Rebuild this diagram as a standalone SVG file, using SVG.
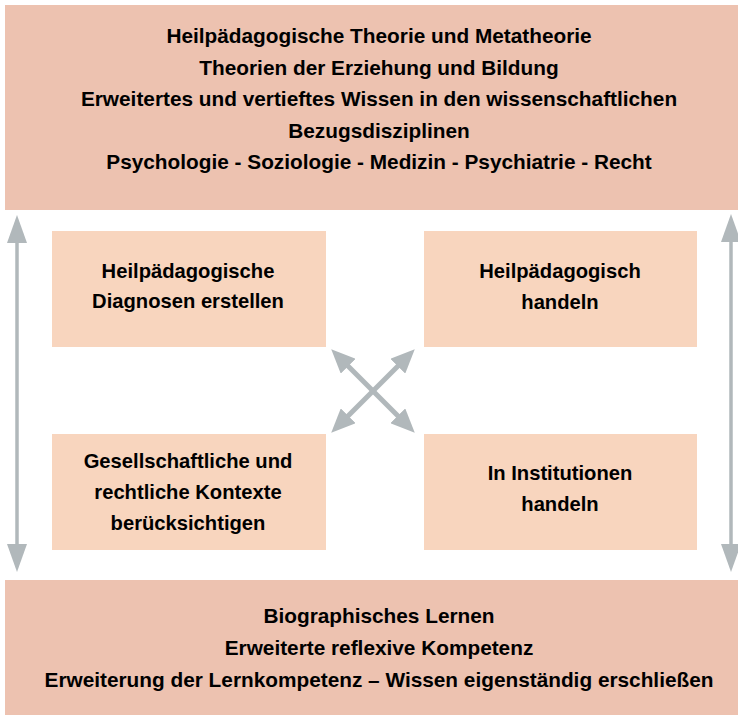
<svg xmlns="http://www.w3.org/2000/svg" width="738" height="725" viewBox="0 0 738 725">
<style>
.outer{fill:#EDC2B0}
.inner{fill:#F8D5BE}
text{font-family:"Liberation Sans",Arial,sans-serif;font-weight:bold;font-size:20.8px;fill:#000;text-anchor:middle}
.small{font-size:20.2px}
.conn{stroke:#B1B8BB;fill:none}
</style>
<defs>
<marker id="hv" markerUnits="userSpaceOnUse" viewBox="0 0 28 20" refX="18" refY="10" markerWidth="28" markerHeight="20" orient="auto-start-reverse"><path d="M0,0 L28,10 L0,20 z" fill="#B1B8BB"/></marker>
<marker id="hd" markerUnits="userSpaceOnUse" viewBox="0 0 24 21" refX="13" refY="10.5" markerWidth="24" markerHeight="21" orient="auto-start-reverse"><path d="M0,0 L24,10.5 L0,21 z" fill="#B1B8BB"/></marker>
</defs>
<rect width="738" height="725" fill="#fff"/>
<g id="top">
<rect class="outer" x="5" y="5" width="740" height="205"/>
<text x="379" y="43">Heilpädagogische Theorie und Metatheorie</text>
<text x="379" y="74.5">Theorien der Erziehung und Bildung</text>
<text x="379" y="106">Erweitertes und vertieftes Wissen in den wissenschaftlichen</text>
<text x="379" y="137.5">Bezugsdisziplinen</text>
<text x="379" y="169">Psychologie - Soziologie - Medizin - Psychiatrie - Recht</text>
</g>
<g id="diagnosen">
<rect class="inner" x="52" y="231" width="274" height="116"/>
<text class="small" x="188" y="278">Heilpädagogische</text>
<text class="small" x="188" y="308">Diagnosen erstellen</text>
</g>
<g id="handeln">
<rect class="inner" x="424" y="231" width="273" height="116"/>
<text class="small" x="560" y="278">Heilpädagogisch</text>
<text class="small" x="560" y="309">handeln</text>
</g>
<g id="kontexte">
<rect class="inner" x="52" y="434" width="274" height="116"/>
<text class="small" x="188" y="468">Gesellschaftliche und</text>
<text class="small" x="188" y="499">rechtliche Kontexte</text>
<text class="small" x="188" y="530">berücksichtigen</text>
</g>
<g id="institutionen">
<rect class="inner" x="424" y="434" width="273" height="116"/>
<text class="small" x="560" y="480">In Institutionen</text>
<text class="small" x="560" y="511">handeln</text>
</g>
<g id="bottom">
<rect class="outer" x="5" y="580" width="740" height="135"/>
<text x="379" y="623">Biographisches Lernen</text>
<text x="379" y="655">Erweiterte reflexive Kompetenz</text>
<text x="379" y="687">Erweiterung der Lernkompetenz – Wissen eigenständig erschließen</text>
</g>
<g id="connectors">
<line class="conn" x1="17" y1="225" x2="17" y2="562" stroke-width="3.5" marker-start="url(#hv)" marker-end="url(#hv)"/>
<line class="conn" x1="731" y1="224" x2="731" y2="562" stroke-width="3.5" marker-start="url(#hv)" marker-end="url(#hv)"/>
<line class="conn" x1="339" y1="357" x2="407" y2="425" stroke-width="5" marker-start="url(#hd)" marker-end="url(#hd)"/>
<line class="conn" x1="407" y1="357" x2="339" y2="425" stroke-width="5" marker-start="url(#hd)" marker-end="url(#hd)"/>
</g>
</svg>
